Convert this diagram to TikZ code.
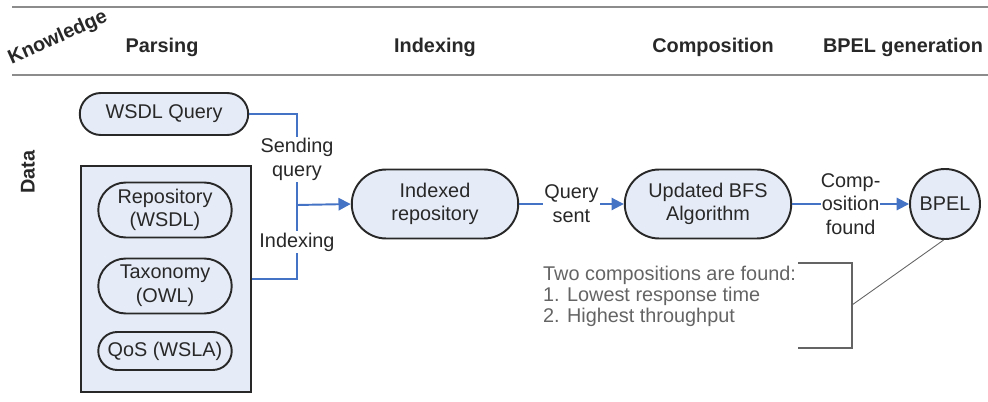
\documentclass[tikz,border=0pt]{standalone}
\usepackage{fontspec}
\setmainfont{Liberation Sans}
\usetikzlibrary{positioning, fit, arrows.meta, shapes.misc, calc}
\definecolor{Fillc}{RGB}{230, 236, 247}
\definecolor{Flow}{RGB}{68, 114, 196}
\definecolor{Rule}{RGB}{140, 140, 140}
\definecolor{Ink}{RGB}{40, 40, 40}
\definecolor{Note}{RGB}{100, 100, 100}

\begin{document}
\begin{tikzpicture}[
        x=0.02cm, y=-0.02cm,
        every node/.style={align=center, font=\fontsize{11.3}{13.5}\selectfont, text=Ink},
        head/.style={font=\fontsize{11.3}{13.5}\selectfont\bfseries},
        pill/.style={rounded rectangle, draw=Ink, line width=1.1pt, fill=Fillc, inner sep=1pt},
        flow/.style={draw=Flow, line width=1.1pt},
        tip/.style={-{Triangle[length=7pt, width=7pt]}},
        lbl/.style={fill=white, inner sep=1pt}
    ]
        \useasboundingbox (0,0) rectangle (988,402);

        % Header rules
        \draw[Rule, line width=1.2pt] (12,7) -- (988,7);
        \draw[Rule, line width=1.2pt] (12,75) -- (988,75);

        % Headers
        \node[head, rotate=24] (know) at (58,38) {Knowledge};
        \node[head] (parse) at (162,47) {Parsing};
        \node[head] (index) at (435,47) {Indexing};
        \node[head] (compo) at (713,47) {Composition};
        \node[head] (bpelgen) at (903,47) {BPEL generation};
        \node[head, rotate=90] (data) at (28,172) {Data};

        % Parsing
        \node[pill, minimum width=3.44cm, minimum height=0.84cm] (wsdl) at (164,114) {WSDL Query};
        \node[draw=Ink, line width=1.1pt, fill=Fillc, minimum width=3.4cm, minimum height=4.52cm] (store) at (166,279) {};
        \node[pill, minimum width=2.74cm, minimum height=1.1cm] (repo) at (165,210) {Repository\\(WSDL)};
        \node[pill, minimum width=2.74cm, minimum height=1.1cm] (tax) at (165,286) {Taxonomy\\(OWL)};
        \node[pill, minimum width=2.74cm, minimum height=0.76cm] (qos) at (165,351) {QoS (WSLA)};

        % Indexing
        \node[pill, minimum width=3.4cm, minimum height=1.38cm] (idx) at (435,204) {Indexed\\repository};

        % Composition
        \node[pill, minimum width=3.4cm, minimum height=1.38cm] (bfs) at (708,204) {Updated BFS\\Algorithm};

        % BPEL generation
        \node[circle, draw=Ink, line width=1.1pt, fill=Fillc, minimum size=1.4cm, inner sep=0pt] (bpel) at (945,204) {BPEL};

        % Arrows
        \coordinate (join) at (297,205);
        \draw[flow] (wsdl.east) -| node[lbl, pos=0.75] {Sending\\query} (join);
        \draw[flow] (store.east) -| node[lbl, pos=0.75] {Indexing} (join);
        \draw[flow, tip] (join) -- (idx.west);
        \draw[flow, tip] (idx) -- node[lbl] {Query\\sent} (bfs);
        \draw[flow, tip] (bfs) -- node[lbl, inner sep=0pt] {Comp-\\osition\\found} (bpel);

        % Note
        \node[text=Note, align=left, anchor=west, font=\fontsize{11.3}{12}\selectfont] (note) at (537,296) {Two compositions are found:\\1. Lowest response time\\2. Highest throughput};
        \draw[Note, line width=0.8pt] (798,263) -| (852,348) -- (798,348);
        \coordinate (brk) at (852,305);
        \draw[Note, line width=0.5pt] (brk) -- (bpel.-92);
    \end{tikzpicture}
\end{document}
